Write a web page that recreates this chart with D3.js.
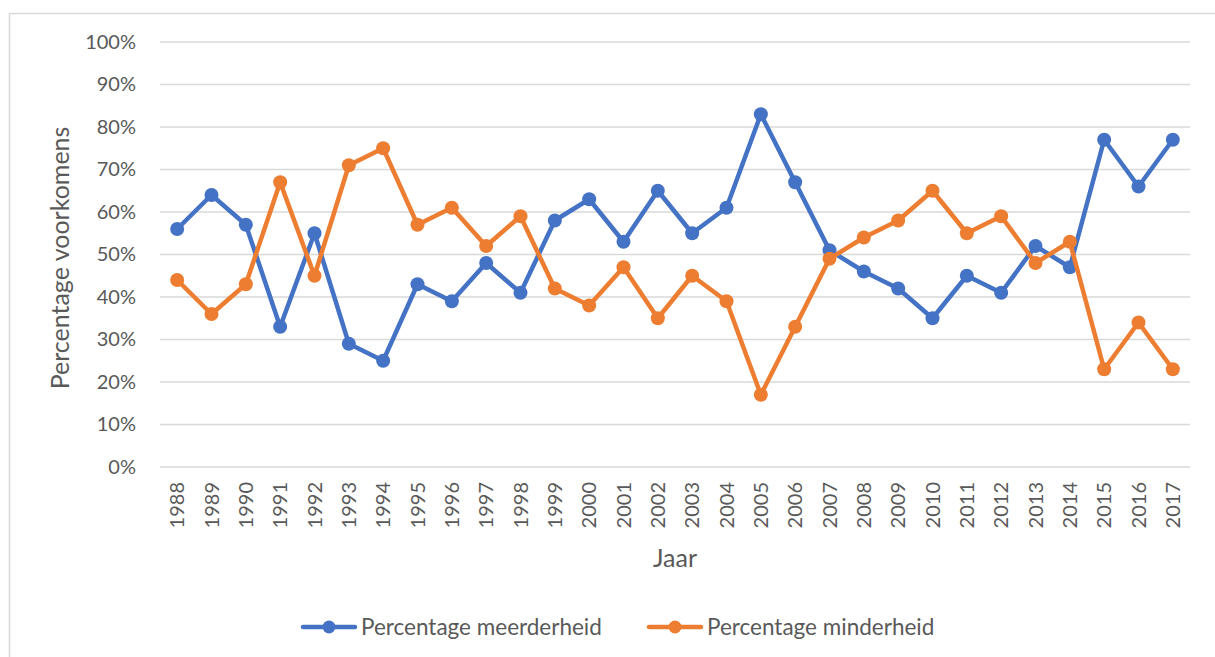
<!DOCTYPE html>
<html>
<head>
<meta charset="utf-8">
<script src="https://cdn.jsdelivr.net/npm/d3@7"></script>
<style>
  body { margin: 0; background: #fff; }
  svg { display: block; font-family: Lato, "Open Sans", sans-serif; }
  .grid line { stroke: #d9d9d9; stroke-width: 1.5; }
  .axis text { fill: #595959; }
</style>
</head>
<body>
<div id="chart"></div>
<script>
var years = ["1988","1989","1990","1991","1992","1993","1994","1995","1996","1997",
             "1998","1999","2000","2001","2002","2003","2004","2005","2006","2007",
             "2008","2009","2010","2011","2012","2013","2014","2015","2016","2017"];
var meerderheid = [56,64,57,33,55,29,25,43,39,48,41,58,63,53,65,55,61,83,67,51,46,42,35,45,41,52,47,77,66,77];
var minderheid  = [44,36,43,67,45,71,75,57,61,52,59,42,38,47,35,45,39,17,33,49,54,58,65,55,59,48,53,23,34,23];
var yTicks = [0,10,20,30,40,50,60,70,80,90,100];
var seriesNames = ["Percentage meerderheid", "Percentage minderheid"];
var colors = ["#4472c4", "#ed7d31"];

var W = 1215, H = 657;
var margin = {top: 42, right: 25, bottom: 190, left: 160},
    width = W - margin.left - margin.right,
    height = H - margin.top - margin.bottom;

var svg = d3.select("#chart").append("svg").attr("width", W).attr("height", H);

// chart frame
svg.append("rect")
    .attr("x", 9.5).attr("y", 13.5)
    .attr("width", W + 10).attr("height", H + 10)
    .attr("fill", "none").attr("stroke", "#d9d9d9").attr("stroke-width", 1.5);

var g = svg.append("g").attr("transform", "translate(" + margin.left + "," + margin.top + ")");

var x = d3.scaleBand().domain(years).range([0, width]);
var y = d3.scaleLinear().domain([0, 100]).range([height, 0]);

g.append("g")
    .attr("class", "grid")
  .selectAll("line")
  .data(yTicks)
  .enter().append("line")
    .attr("x1", 0).attr("x2", width)
    .attr("y1", function(d) { return y(d); })
    .attr("y2", function(d) { return y(d); });

var yAxis = g.append("g")
    .attr("class", "axis")
    .call(d3.axisLeft(y).tickValues(yTicks).tickSize(0).tickPadding(24).tickFormat(function(d) { return d + "%"; }));
yAxis.select(".domain").remove();
yAxis.selectAll("text").attr("font-size", 20).attr("font-family", "Lato, sans-serif");

var xAxis = g.append("g")
    .attr("class", "axis")
    .attr("transform", "translate(0," + height + ")")
    .call(d3.axisBottom(x).tickSize(0));
xAxis.select(".domain").remove();
xAxis.selectAll("text")
    .attr("font-size", 20)
    .attr("font-family", "Lato, sans-serif")
    .attr("transform", "rotate(-90)")
    .attr("x", -15)
    .attr("y", 0)
    .attr("dy", "0.35em")
    .attr("text-anchor", "end");

g.append("text")
    .attr("x", width / 2)
    .attr("y", height + 100)
    .attr("text-anchor", "middle")
    .attr("font-size", 25)
    .attr("fill", "#595959")
    .text("Jaar");

svg.append("text")
    .attr("transform", "translate(69,258) rotate(-90)")
    .attr("text-anchor", "middle")
    .attr("font-size", 25)
    .attr("fill", "#595959")
    .text("Percentage voorkomens");

var line = d3.line()
    .x(function(d, i) { return x(years[i]) + x.bandwidth() / 2; })
    .y(function(d) { return y(d); });

[meerderheid, minderheid].forEach(function(vals, k) {
  var s = g.append("g");
  s.append("path")
      .datum(vals)
      .attr("fill", "none")
      .attr("stroke", colors[k])
      .attr("stroke-width", 4.5)
      .attr("stroke-linejoin", "round")
      .attr("d", line);
  s.selectAll("circle")
    .data(vals)
    .enter().append("circle")
      .attr("cx", function(d, i) { return x(years[i]) + x.bandwidth() / 2; })
      .attr("cy", function(d) { return y(d); })
      .attr("r", 7)
      .attr("fill", colors[k]);
});

// legend
var legendX = [301, 647];
var legend = svg.append("g")
  .selectAll("g")
  .data(seriesNames)
  .enter().append("g")
    .attr("transform", function(d, i) { return "translate(" + legendX[i] + ",627)"; });

legend.append("line")
    .attr("x1", 2).attr("x2", 54)
    .attr("stroke", function(d, i) { return colors[i]; })
    .attr("stroke-width", 4.5)
    .attr("stroke-linecap", "round");
legend.append("circle")
    .attr("cx", 28).attr("r", 6.5)
    .attr("fill", function(d, i) { return colors[i]; });
legend.append("text")
    .attr("x", 60)
    .attr("dy", "0.35em")
    .attr("font-size", 22.5)
    .attr("fill", "#595959")
    .text(function(d) { return d; });
</script>
</body>
</html>
